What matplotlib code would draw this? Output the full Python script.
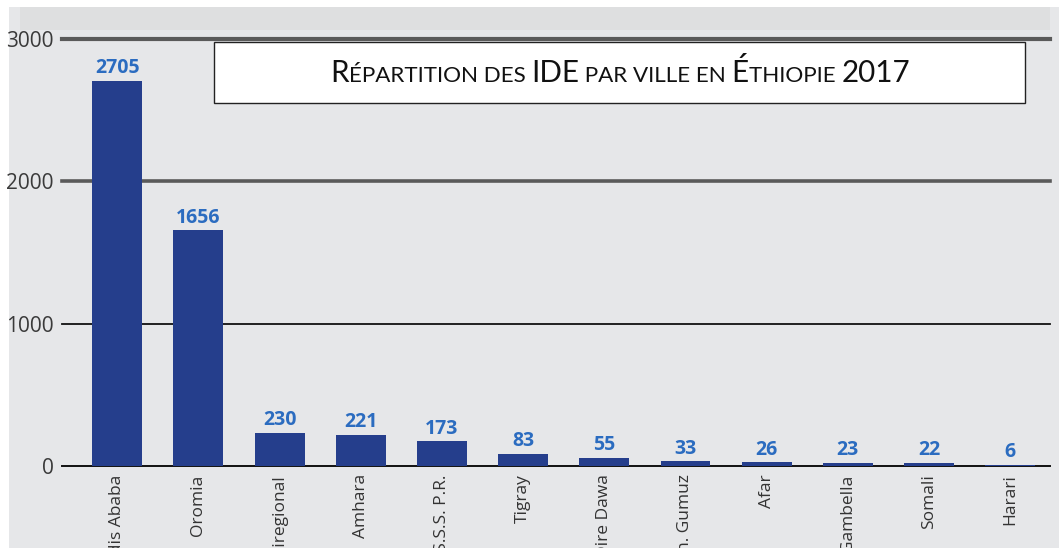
import matplotlib
matplotlib.use("Agg")
import matplotlib.pyplot as plt
from matplotlib.patches import Rectangle
from matplotlib.offsetbox import TextArea, HPacker, AnnotationBbox

categories = ["Addis Ababa", "Oromia", "Multiregional", "Amhara", "R.S.S.S. P.R.",
              "Tigray", "Dire Dawa", "Ben. Gumuz", "Afar", "Gambella", "Somali", "Harari"]
values = [2705, 1656, 230, 221, 173, 83, 55, 33, 26, 23, 22, 6]
yticks = [0, 1000, 2000, 3000]

W, H = 1059, 548
fig = plt.figure(figsize=(W / 100, H / 100), dpi=100, facecolor="white")

def fx(px):
    return px / W

def fy(py):
    return 1 - py / H

# background panels
fig.patches.append(Rectangle((fx(9), 0), 1 - fx(9), fy(7), transform=fig.transFigure,
                             facecolor="#e6e7e9", edgecolor="none", zorder=0))
fig.patches.append(Rectangle((fx(20), fy(30)), fx(1050) - fx(20), fy(7) - fy(30),
                             transform=fig.transFigure, facecolor="#dedfe0",
                             edgecolor="none", zorder=0))

ax = fig.add_axes([fx(62), fy(466), fx(1050) - fx(62), fy(39) - fy(466)], zorder=2)
ax.set_facecolor("none")
x = list(range(len(categories)))
ax.bar(x, values, width=0.615, color="#253e8c", zorder=3)
ax.set_xlim(-0.68, 11.49)
ax.set_ylim(0, 3000)

for s in ax.spines.values():
    s.set_visible(False)

grid_styles = {0: ("#111111", 1.4), 1000: ("#111111", 1.3), 2000: ("#5a5a5a", 2.6), 3000: ("#5a5a5a", 3.0)}
for yv in yticks:
    c, lw = grid_styles[yv]
    ax.axhline(yv, color=c, lw=lw, zorder=2, clip_on=False)

ax.set_yticks(yticks)
ax.set_yticklabels([str(v) for v in yticks], fontsize=15, color="#3a3a3a", family="Open Sans")
ax.tick_params(axis="y", length=0, pad=6)
ax.set_xticks(x)
ax.set_xticklabels(categories, rotation=90, fontsize=12.5, color="#333333",
                   family="Open Sans", ha="center", va="top")
ax.tick_params(axis="x", length=0, pad=6)

for xi, v in zip(x, values):
    ax.annotate(str(v), (xi, v), xytext=(0, 2), textcoords="offset points",
                ha="center", va="bottom", fontsize=14, fontweight="bold",
                color="#2b6cc0", family="Open Sans", zorder=4)

# title box (drawn above the axes)
tax = fig.add_axes([0, 0, 1, 1], zorder=5)
tax.set_axis_off()
tax.set_xlim(0, 1)
tax.set_ylim(0, 1)
tax.add_patch(Rectangle((fx(214), fy(103)), fx(1025) - fx(214), fy(42) - fy(103),
                        facecolor="white", edgecolor="#222222", lw=1.0))
big, small = 21.3, 16.1
pieces = [("R", big), ("ÉPARTITION DES ", small), ("IDE", big), (" PAR VILLE EN ", small),
          ("É", big), ("THIOPIE ", small), ("2017", big)]
areas = [TextArea(t, textprops=dict(fontsize=s, color="#111111", family="Lato")) for t, s in pieces]
pack = HPacker(children=areas, align="baseline", pad=0, sep=0)
ab = AnnotationBbox(pack, (fx(620), fy(72)), xycoords="figure fraction", frameon=False,
                    box_alignment=(0.5, 0.5))
tax.add_artist(ab)

fig.savefig("out.png", dpi=100, facecolor="white")
